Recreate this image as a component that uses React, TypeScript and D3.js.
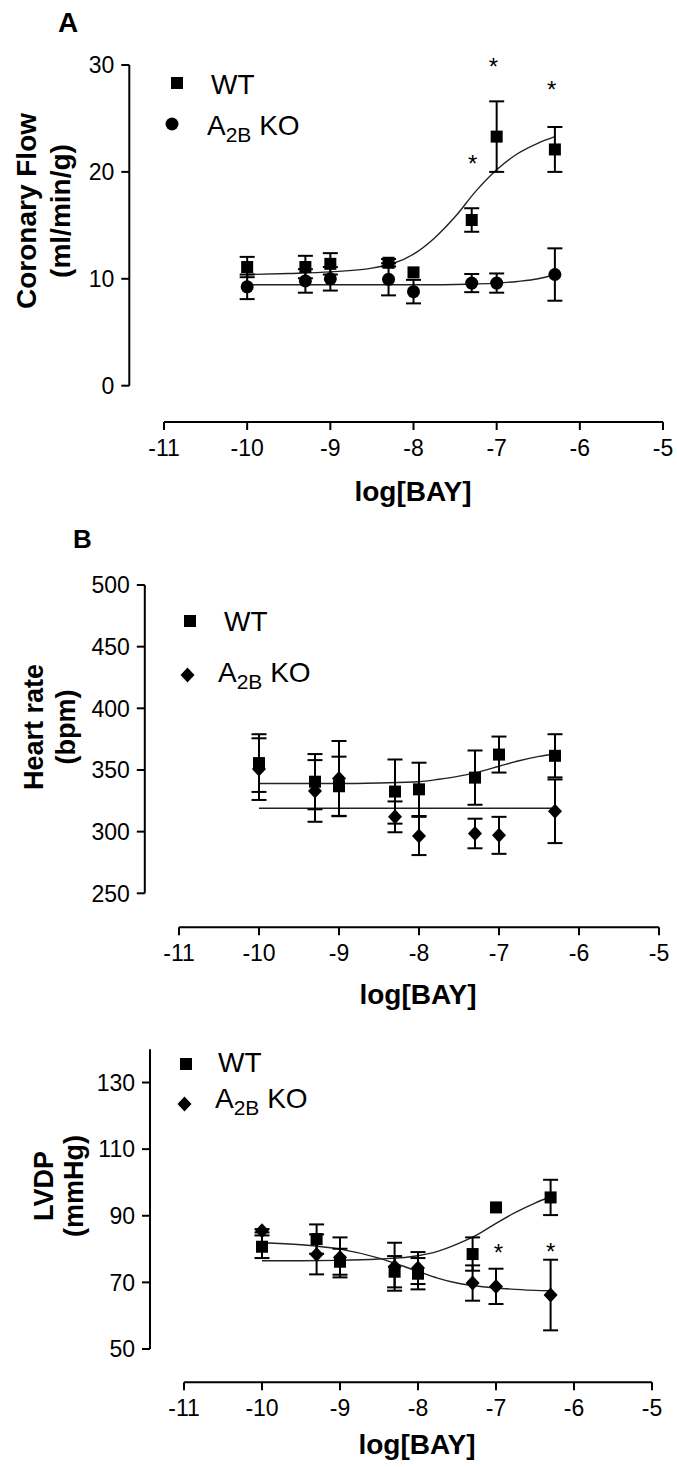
import React from "react";
import * as d3 from "d3";

// doses (log M) used for every panel
const doses = [-10, -9.3, -9, -8.3, -8, -7.3, -7, -6.3];
const fitDoses = [-10, -9.5, -9, -8.5, -8, -7.75, -7.5, -7.25, -7, -6.75, -6.5, -6.3];
const xTicks = [-11, -10, -9, -8, -7, -6, -5];

// A: coronary flow (ml/min/g)
const flowWT = [11.1, 11.1, 11.4, 11.5, 10.6, 15.5, 23.3, 22.1];
const flowWTErr = [0.95, 1.05, 1.0, 0.35, 0, 1.1, 3.3, 2.1];
const flowKO = [9.25, 9.8, 10.0, 9.95, 8.8, 9.6, 9.6, 10.4];
const flowKOErr = [1.15, 1.1, 1.1, 1.5, 1.1, 0.85, 0.9, 2.45];
const flowWTFit = [10.4, 10.5, 10.65, 11.0, 12.3, 13.8, 15.8, 18.2, 20.2, 21.7, 22.7, 23.3];
const flowKOFit = [9.45, 9.45, 9.45, 9.45, 9.45, 9.45, 9.47, 9.52, 9.6, 9.75, 10.0, 10.4];
const flowTicks = [0, 10, 20, 30];
const flowStarX = [-7.04, -6.34, -7.29];
const flowStarY = [30.3, 28.1, 21.2];

// B: heart rate (bpm)
const hrWT = [355.6, 340.5, 336.8, 332.5, 334.3, 343.8, 362.5, 361.5];
const hrWTErr = [23.4, 22.4, 24, 26, 21.6, 22, 14.6, 17.5];
const hrKO = [350.7, 333, 343, 312, 296.5, 298.5, 297, 316.5];
const hrKOErr = [25, 25, 30.5, 12.5, 15.5, 12, 15, 25.8];
const hrWTFit = [339, 339, 339, 339.5, 340.5, 342.5, 345, 348.5, 353, 357.5, 361, 363];
const hrKOFit = [319, 319, 319, 319, 319, 319, 319, 319, 319, 319, 319, 319];
const hrTicks = [250, 300, 350, 400, 450, 500];

// C: LVDP (mmHg)
const lvdpWT = [80.7, 83, 76.2, 73.2, 72.6, 78.5, 92.5, 95.5];
const lvdpWTErr = [3.4, 4.4, 3.9, 4.7, 4.7, 5, 0, 5.3];
const lvdpKO = [85.5, 78.4, 77.5, 74.7, 74.3, 69.8, 68.8, 66.2];
const lvdpKOErr = [0.5, 6, 6, 7.2, 4.8, 5.3, 5.3, 10.6];
const lvdpWTFit = [76.5, 76.5, 76.6, 77.0, 78.0, 79.3, 81.5, 84.2, 87.7, 91, 93.8, 95.7];
const lvdpKOFit = [81.9, 81.3, 80, 77.3, 73.3, 71.3, 69.8, 68.9, 68.3, 67.9, 67.6, 67.5];
const lvdpTicks = [50, 70, 90, 110, 130];
const lvdpStarX = [-6.97, -6.3];
const lvdpStarY = [80.2, 80.7];

const FONT = "'Liberation Sans', Arial, Helvetica, sans-serif";

const panels = [
  {
    label: "A", labelX: 58, labelY: 32, labelSize: 28,
    xRange: [164, 663], yDomain: [0, 30], yRange: [385.7, 65],
    xAxisY: 422, yAxisX: 129.3, yTicks: flowTicks,
    yTitle: ["Coronary Flow", "(ml/min/g)"], yTitleX: [36, 70], yTitleY: 211, titleSize: 28,
    xTitleX: 413, xTitleY: 501,
    wt: flowWT, wtErr: flowWTErr, ko: flowKO, koErr: flowKOErr,
    wtFit: flowWTFit, koFit: flowKOFit, koShape: "circle",
    starX: flowStarX, starY: flowStarY,
    legWT: [177, 83], legKO: [172, 124], legText: [[211, 94], [207, 135]],
  },
  {
    label: "B", labelX: 73, labelY: 548, labelSize: 26,
    xRange: [179, 659], yDomain: [250, 500], yRange: [893.3, 585],
    xAxisY: 927.3, yAxisX: 144.8, yTicks: hrTicks,
    yTitle: ["Heart rate", "(bpm)"], yTitleX: [43, 75.4], yTitleY: 727, titleSize: 27,
    xTitleX: 418, xTitleY: 1004,
    wt: hrWT, wtErr: hrWTErr, ko: hrKO, koErr: hrKOErr,
    wtFit: hrWTFit, koFit: hrKOFit, koShape: "diamond",
    starX: [], starY: [],
    legWT: [190, 621], legKO: [187.5, 675], legText: [[224, 631], [218, 682]],
  },
  {
    label: "", labelX: 0, labelY: 0, labelSize: 26,
    xRange: [184, 652], yDomain: [50, 140], yRange: [1349, 1049.2],
    xAxisY: 1382.3, yAxisX: 150, yTicks: lvdpTicks,
    yTitle: ["LVDP", "(mmHg)"], yTitleX: [53, 83.4], yTitleY: 1186, titleSize: 27,
    xTitleX: 417, xTitleY: 1454,
    wt: lvdpWT, wtErr: lvdpWTErr, ko: lvdpKO, koErr: lvdpKOErr,
    wtFit: lvdpWTFit, koFit: lvdpKOFit, koShape: "diamond",
    starX: lvdpStarX, starY: lvdpStarY,
    legWT: [186, 1064], legKO: [184.5, 1104], legText: [[218, 1072], [215, 1108]],
  },
];

const Marker = ({ shape, cx, cy }: { shape: string; cx: number; cy: number }) => {
  if (shape === "square") return <rect x={cx - 6} y={cy - 6} width={12} height={12} fill="#000" />;
  if (shape === "circle") return <circle cx={cx} cy={cy} r={6.5} fill="#000" />;
  return <path d={`M${cx},${cy - 7.5}L${cx + 7},${cy}L${cx},${cy + 7.5}L${cx - 7},${cy}Z`} fill="#000" />;
};

const ErrorBars = ({ vals, errs, x, y }: any) => (
  <g stroke="#000" strokeWidth={2}>
    {vals.map((v: number, i: number) => {
      const e = errs[i];
      if (!e) return null;
      const cx = x(doses[i]);
      const top = y(v + e);
      const bot = y(v - e);
      return (
        <g key={i}>
          <line x1={cx} x2={cx} y1={top} y2={bot} />
          <line x1={cx - 7.5} x2={cx + 7.5} y1={top} y2={top} />
          <line x1={cx - 7.5} x2={cx + 7.5} y1={bot} y2={bot} />
        </g>
      );
    })}
  </g>
);

const Panel = ({ p }: { p: any }) => {
  const x = d3.scaleLinear().domain([-11, -5]).range(p.xRange);
  const y = d3.scaleLinear().domain(p.yDomain).range(p.yRange);
  const line = d3
    .line<number>()
    .x((_, i) => x(fitDoses[i]))
    .y((d) => y(d))
    .curve(d3.curveMonotoneX);
  const [y0, y1] = p.yDomain;

  return (
    <g fontFamily={FONT} fill="#000">
      {p.label && (
        <text x={p.labelX} y={p.labelY} fontSize={p.labelSize} fontWeight="bold">
          {p.label}
        </text>
      )}

      {/* y axis */}
      <line x1={p.yAxisX} x2={p.yAxisX} y1={y(y1)} y2={y(y0)} stroke="#000" strokeWidth={2} />
      {p.yTicks.map((t: number) => (
        <g key={t}>
          <line x1={p.yAxisX - 8} x2={p.yAxisX} y1={y(t)} y2={y(t)} stroke="#000" strokeWidth={2} />
          <text x={p.yAxisX - 15} y={y(t)} dy="0.36em" textAnchor="end" fontSize={23}>
            {t}
          </text>
        </g>
      ))}
      {p.yTitle.map((s: string, i: number) => (
        <text
          key={s}
          transform={`translate(${p.yTitleX[i]},${p.yTitleY}) rotate(-90)`}
          textAnchor="middle"
          fontSize={p.titleSize}
          fontWeight="bold"
        >
          {s}
        </text>
      ))}

      {/* x axis */}
      <line x1={x(-11)} x2={x(-5)} y1={p.xAxisY} y2={p.xAxisY} stroke="#000" strokeWidth={2} />
      {xTicks.map((t) => (
        <g key={t}>
          <line x1={x(t)} x2={x(t)} y1={p.xAxisY} y2={p.xAxisY + 8} stroke="#000" strokeWidth={2} />
          <text x={x(t)} y={p.xAxisY + 34} textAnchor="middle" fontSize={23}>
            {t}
          </text>
        </g>
      ))}
      <text x={p.xTitleX} y={p.xTitleY} textAnchor="middle" fontSize={28} fontWeight="bold">
        log[BAY]
      </text>

      {/* fitted curves */}
      <path d={line(p.wtFit) || ""} fill="none" stroke="#222" strokeWidth={1.4} />
      <path d={line(p.koFit) || ""} fill="none" stroke="#222" strokeWidth={1.4} />

      <ErrorBars vals={p.wt} errs={p.wtErr} x={x} y={y} />
      <ErrorBars vals={p.ko} errs={p.koErr} x={x} y={y} />
      {p.wt.map((v: number, i: number) => (
        <Marker key={"w" + i} shape="square" cx={x(doses[i])} cy={y(v)} />
      ))}
      {p.ko.map((v: number, i: number) => (
        <Marker key={"k" + i} shape={p.koShape} cx={x(doses[i])} cy={y(v)} />
      ))}

      {p.starX.map((sx: number, i: number) => (
        <text key={"s" + i} x={x(sx)} y={y(p.starY[i])} dy={13} textAnchor="middle" fontSize={24}>
          *
        </text>
      ))}

      {/* legend */}
      <Marker shape="square" cx={p.legWT[0]} cy={p.legWT[1]} />
      <Marker shape={p.koShape} cx={p.legKO[0]} cy={p.legKO[1]} />
      <text x={p.legText[0][0]} y={p.legText[0][1]} fontSize={28}>
        WT
      </text>
      <text x={p.legText[1][0]} y={p.legText[1][1]} fontSize={28}>
        A
        <tspan fontSize={21} dy={7}>
          2B
        </tspan>
        <tspan dy={-7}> KO</tspan>
      </text>
    </g>
  );
};

export default function App() {
  return (
    <svg
      width={677}
      height={1467}
      style={{ position: "absolute", left: 0, top: 0, background: "#fff" }}
    >
      <rect width={677} height={1467} fill="#fff" />
      {panels.map((p, i) => (
        <Panel key={i} p={p} />
      ))}
    </svg>
  );
}
